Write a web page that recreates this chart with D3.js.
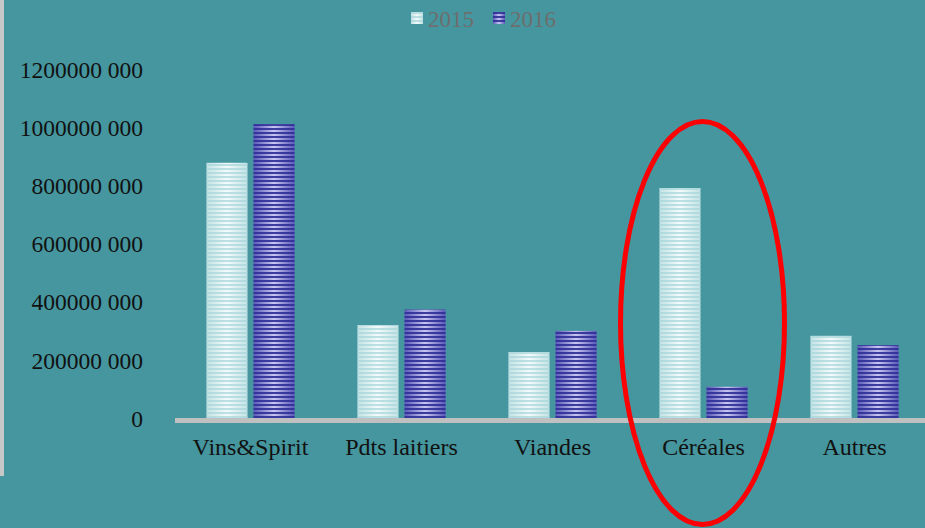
<!DOCTYPE html>
<html>
<head>
<meta charset="utf-8">
<script src="https://cdn.jsdelivr.net/npm/d3@7"></script>
<style>
  body { margin: 0; background: #45969e; }
  svg { display: block; }
  text { font-family: "Liberation Serif", "Times New Roman", serif; }
</style>
</head>
<body>
<div id="chart"></div>
<script>
// data
var categories = ["Vins&Spirit", "Pdts laitiers", "Viandes", "Céréales", "Autres"];
var series = ["2015", "2016"];
var values2015 = [881000000, 323000000, 230000000, 794000000, 286000000];
var values2016 = [1014000000, 376000000, 303000000, 111000000, 254000000];
var yTicks = [0, 200000000, 400000000, 600000000, 800000000, 1000000000, 1200000000];
var highlight = "Céréales";

var W = 925, H = 528;
var svg = d3.select("#chart").append("svg")
  .attr("width", W).attr("height", H);

svg.append("rect").attr("width", W).attr("height", H).attr("fill", "#45969e");
// grey strip on the left edge
svg.append("rect").attr("x", 0).attr("y", 0).attr("width", 4).attr("height", 476).attr("fill", "#c8c8c8");

var defs = svg.append("defs");

function makeFill(id, edge, center, stripe, stripeOpacity) {
  var g = defs.append("linearGradient").attr("id", id + "-grad")
    .attr("x1", "0").attr("x2", "1").attr("y1", "0").attr("y2", "0");
  g.append("stop").attr("offset", "0%").attr("stop-color", edge);
  g.append("stop").attr("offset", "50%").attr("stop-color", center);
  g.append("stop").attr("offset", "100%").attr("stop-color", edge);
  var p = defs.append("pattern").attr("id", id + "-stripe")
    .attr("patternUnits", "userSpaceOnUse")
    .attr("width", 8).attr("height", 4);
  p.append("rect").attr("x", 0).attr("y", 0).attr("width", 8).attr("height", 2)
    .attr("fill", stripe).attr("fill-opacity", stripeOpacity);
}
makeFill("s2015", "#c2e2e5", "#f4fbfb", "#a9d6db", 0.75);
makeFill("s2016", "#5a59b8", "#c9c7f0", "#2f2f98", 0.9);

var seriesData = { "2015": values2015, "2016": values2016 };

var x0 = d3.scaleBand().domain(categories).range([175, 930]);
var x1 = d3.scaleBand().domain(series)
  .range([31.5, x0.bandwidth() - 31.5]).paddingInner(0.13);
var y = d3.scaleLinear().domain([0, 1200000000]).range([419, 70]);

function fmt(v) {
  if (v === 0) return "0";
  var hi = Math.floor(v / 1000), lo = v % 1000;
  return hi + " " + String(lo).padStart(3, "0");
}

// y tick labels
svg.append("g").selectAll("text")
  .data(yTicks)
  .enter().append("text")
  .attr("x", 143)
  .attr("y", function(d) { return y(d); })
  .attr("dy", "0.33em")
  .attr("text-anchor", "end")
  .attr("font-size", "23.5px")
  .attr("fill", "#111")
  .text(fmt);

// bars
var groups = svg.append("g").selectAll("g")
  .data(categories)
  .enter().append("g")
  .attr("transform", function(d) { return "translate(" + x0(d) + ",0)"; });

series.forEach(function(s) {
  groups.each(function(c, i) {
    var v = seriesData[s][i];
    var g = d3.select(this);
    var bx = x1(s), by = y(v), bw = x1.bandwidth(), bh = 418 - y(v);
    g.append("rect").attr("x", bx).attr("y", by).attr("width", bw).attr("height", bh)
      .attr("fill", "url(#s" + s + "-grad)");
    g.append("rect").attr("x", bx).attr("y", by).attr("width", bw).attr("height", bh)
      .attr("fill", "url(#s" + s + "-stripe)");
  });
});

// baseline
svg.append("rect").attr("x", 175).attr("y", 418).attr("width", W - 175).attr("height", 5)
  .attr("fill", "#c0c0c0");

// category labels
svg.append("g").selectAll("text")
  .data(categories)
  .enter().append("text")
  .attr("x", function(d) { return x0(d) + x0.bandwidth() / 2; })
  .attr("y", 455)
  .attr("text-anchor", "middle")
  .attr("font-size", "24px")
  .attr("fill", "#111")
  .text(function(d) { return d; });

// legend
var legend = svg.append("g").selectAll("g")
  .data(series)
  .enter().append("g")
  .attr("transform", function(d, i) { return "translate(" + (411 + i * 82) + ",12)"; });
legend.append("rect").attr("width", 12).attr("height", 12)
  .attr("fill", function(d) { return "url(#s" + d + "-grad)"; });
legend.append("rect").attr("width", 12).attr("height", 12)
  .attr("fill", function(d) { return "url(#s" + d + "-stripe)"; });
legend.append("text")
  .attr("x", 17).attr("y", 15)
  .attr("font-size", "23px")
  .attr("fill", "#6e6e6e")
  .text(function(d) { return d; });

// red ellipse around the highlighted category
svg.append("ellipse")
  .attr("cx", x0(highlight) + x0.bandwidth() / 2 - 1)
  .attr("cy", 323)
  .attr("rx", 82)
  .attr("ry", 201.5)
  .attr("fill", "none")
  .attr("stroke", "#ff0000")
  .attr("stroke-width", 5);
</script>
</body>
</html>
